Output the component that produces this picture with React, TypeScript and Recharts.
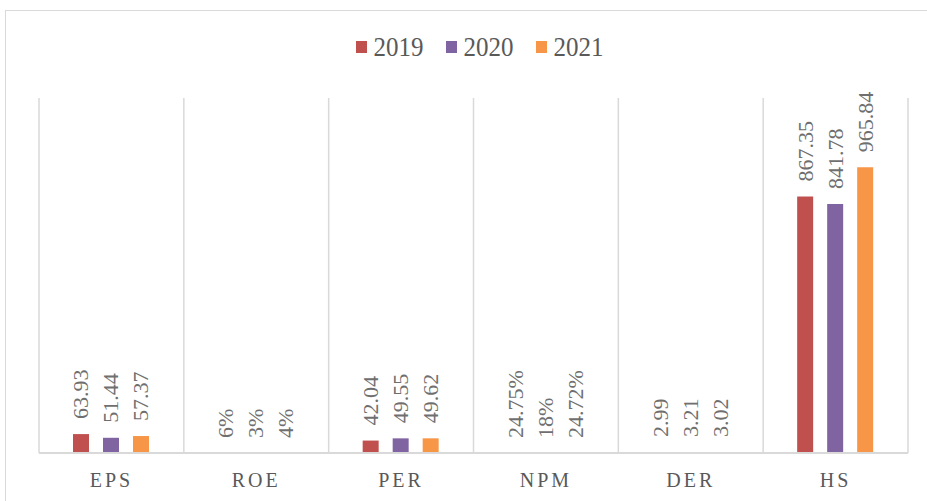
import React from 'react';
import { BarChart, Bar, XAxis, YAxis, CartesianGrid, Legend } from 'recharts';

const categories = ['EPS', 'ROE', 'PER', 'NPM', 'DER', 'HS'];
const values2019 = [63.93, 0.06, 42.04, 0.2475, 2.99, 867.35];
const values2020 = [51.44, 0.03, 49.55, 0.18, 3.21, 841.78];
const values2021 = [57.37, 0.04, 49.62, 0.2472, 3.02, 965.84];
const labels2019 = ['63.93', '6%', '42.04', '24.75%', '2.99', '867.35'];
const labels2020 = ['51.44', '3%', '49.55', '18%', '3.21', '841.78'];
const labels2021 = ['57.37', '4%', '49.62', '24.72%', '3.02', '965.84'];
const seriesNames = ['2019', '2020', '2021'];
const seriesColors = ['#C0504D', '#8064A2', '#F79646'];

const data = categories.map((c, i) => ({
  name: c,
  y2019: values2019[i],
  y2020: values2020[i],
  y2021: values2021[i],
}));

const TEXT = '#595959';
const LABEL_TEXT = '#6f6f6f';
const FONT = '"Liberation Serif", "DejaVu Serif", serif';

const makeLabel = (labels: string[]) => (props: any) => {
  const { x, y, width, index } = props;
  const cx = x + width / 2;
  const ty = y - 15;
  return (
    <text
      x={cx}
      y={ty}
      transform={`rotate(-90 ${cx} ${ty})`}
      textAnchor="start"
      dominantBaseline="central"
      fill={LABEL_TEXT}
      fontFamily={FONT}
      fontSize={22}
    >
      {labels[index]}
    </text>
  );
};

const CategoryTick = (props: any) => {
  const { x, y, payload } = props;
  return (
    <text
      x={x}
      y={y + 26}
      textAnchor="middle"
      fill={TEXT}
      fontFamily={FONT}
      fontSize={20}
      letterSpacing={3}
    >
      {payload.value}
    </text>
  );
};

const LegendContent = () => (
  <div style={{ display: 'flex', justifyContent: 'center', alignItems: 'center', fontFamily: FONT, color: TEXT, fontSize: 25, paddingLeft: 32 }}>
    {seriesNames.map((n, i) => (
      <div key={n} style={{ display: 'flex', alignItems: 'center', marginRight: i < 2 ? 22 : 0 }}>
        <span style={{ display: 'inline-block', width: 11, height: 12, background: seriesColors[i], marginRight: 7 }} />
        <span style={{ display: 'inline-block', transform: 'scaleY(1.12)' }}>{n}</span>
      </div>
    ))}
  </div>
);

export default function App() {
  return (
    <div style={{ position: 'absolute', left: 0, top: 0, width: 927, height: 501, overflow: 'hidden', background: '#fff' }}>
      <div style={{ position: 'absolute', left: 5, top: 10, width: 940, height: 520, border: '1px solid #d9d9d9' }} />
      <div style={{ position: 'absolute', left: 0, top: 0 }}>
        <BarChart
          width={927}
          height={501}
          data={data}
          margin={{ top: 98, right: 19, bottom: 8, left: 39 }}
          barSize={16}
          barGap={14}
        >
          <CartesianGrid
            horizontal={false}
            stroke="#d9d9d9"
            strokeWidth={1.5}
            verticalCoordinatesGenerator={({ offset }: any) =>
              Array.from({ length: categories.length + 1 }, (_, i) => offset.left + (i * offset.width) / categories.length)
            }
          />
          <XAxis
            dataKey="name"
            axisLine={{ stroke: '#d9d9d9', strokeWidth: 2 }}
            tickLine={false}
            height={40}
            tick={<CategoryTick />}
            interval={0}
          />
          <YAxis hide domain={[0, 1200]} />
          <Legend verticalAlign="middle" align="center" content={<LegendContent />} wrapperStyle={{ top: 33, left: 0, width: 927 }} />
          <Bar dataKey="y2019" name="2019" fill={seriesColors[0]} isAnimationActive={false} label={makeLabel(labels2019)} />
          <Bar dataKey="y2020" name="2020" fill={seriesColors[1]} isAnimationActive={false} label={makeLabel(labels2020)} />
          <Bar dataKey="y2021" name="2021" fill={seriesColors[2]} isAnimationActive={false} label={makeLabel(labels2021)} />
        </BarChart>
      </div>
    </div>
  );
}
